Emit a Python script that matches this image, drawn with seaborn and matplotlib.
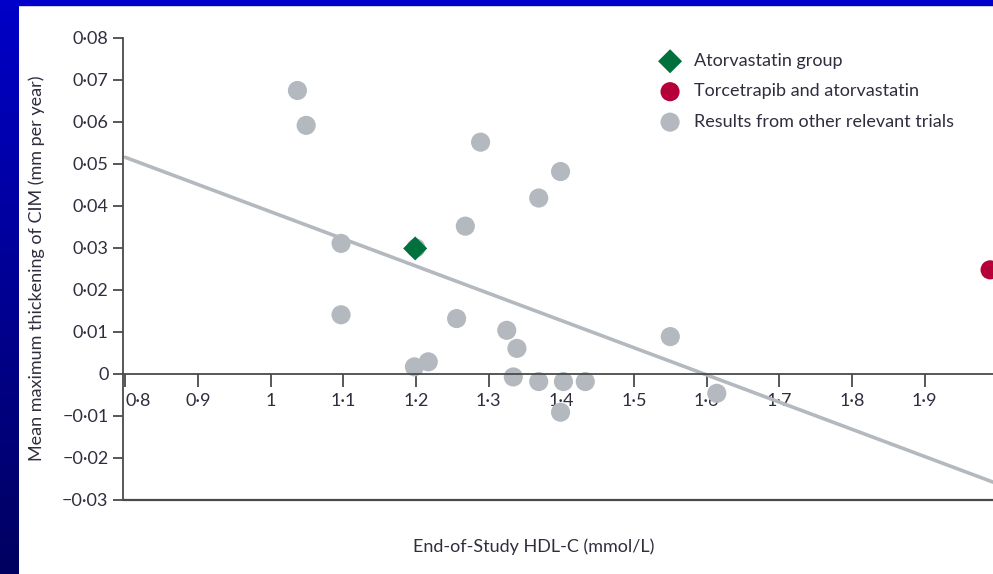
import matplotlib
matplotlib.use("Agg")
import matplotlib.pyplot as plt
import numpy as np
import seaborn as sns

# Data
other_hdl = [1.037, 1.049, 1.289, 1.399, 1.369, 1.268, 1.097, 1.200, 1.097, 1.256,
             1.325, 1.339, 1.198, 1.217, 1.334, 1.369, 1.403, 1.433, 1.399, 1.550, 1.614]
other_cim = [0.0675, 0.0592, 0.0552, 0.0482, 0.0419, 0.0352, 0.0311, 0.0300, 0.0141, 0.0132,
             0.0104, 0.0061, 0.0017, 0.0029, -0.0007, -0.0018, -0.0018, -0.0018, -0.0091, 0.0089, -0.0046]
ator_hdl = [1.199]
ator_cim = [0.0299]
torc_hdl = [1.99]
torc_cim = [0.0248]
fit_hdl = [0.8, 1.995]
fit_cim = [0.0516, -0.0258]

xticks = [0.8, 0.9, 1.0, 1.1, 1.2, 1.3, 1.4, 1.5, 1.6, 1.7, 1.8, 1.9]
yticks = [0.08, 0.07, 0.06, 0.05, 0.04, 0.03, 0.02, 0.01, 0, -0.01, -0.02, -0.03]

grey = "#b3b9be"
green = "#00703c"
red = "#b5003a"
axis_c = "#4a4a4a"
text_c = "#2e2e3e"
fs = 13

sns.set_theme(style="white")
plt.rcParams['font.family'] = ['Lato', 'DejaVu Sans']

fig = plt.figure(figsize=(9.93, 5.74), dpi=100)
ax = fig.add_axes([123 / 993, 1 - 500 / 574, 1 - 123 / 993, 462 / 574])

sns.lineplot(x=fit_hdl, y=fit_cim, ax=ax, color=grey, lw=2.6, zorder=1)
sns.scatterplot(x=other_hdl, y=other_cim, ax=ax, color=grey, s=190, edgecolor="none",
                zorder=2, label="Results from other relevant trials")
sns.scatterplot(x=ator_hdl, y=ator_cim, ax=ax, color=green, s=150, marker="D",
                edgecolor="none", zorder=3, label="Atorvastatin group")
sns.scatterplot(x=torc_hdl, y=torc_cim, ax=ax, color=red, s=190, edgecolor="none",
                zorder=3, label="Torcetrapib and atorvastatin")

ax.set_xlim(0.797, 1.994)
ax.set_ylim(-0.03, 0.08)

for side in ["top", "right"]:
    ax.spines[side].set_visible(False)
ax.spines["bottom"].set_position(("data", 0))
for side in ["bottom", "left"]:
    ax.spines[side].set_color(axis_c)
    ax.spines[side].set_linewidth(1.3)
ax.axhline(-0.03, color=axis_c, lw=1.6, clip_on=False, zorder=0)

def fmt(v):
    s = f"{v:.2f}" if v != 0 else "0"
    return s.replace(".", "\u00b7").replace("-", "\u2212")

ax.set_yticks(yticks)
ax.set_yticklabels([fmt(v) for v in yticks])
ax.set_xticks(xticks)
xl = [f"{v:g}".replace(".", "\u00b7") for v in xticks]
ax.set_xticklabels(xl)
ax.tick_params(axis="both", direction="out", length=7, width=1.3, color=axis_c,
               labelsize=fs, labelcolor=text_c, left=True, bottom=True)
ax.tick_params(axis="x", pad=5, length=9)
ax.xaxis.get_majorticklabels()[0].set_horizontalalignment("left")

ax.set_xlabel("")
ax.set_ylabel("")
fig.text(534 / 993, 1 - 547 / 574, "End-of-Study HDL-C (mmol/L)", ha="center", va="center",
         fontsize=fs, color=text_c)
fig.text(37 / 993, 1 - 268 / 574, "Mean maximum thickening of CIM (mm per year)",
         ha="center", va="center", rotation=90, fontsize=fs, color=text_c)

handles, labels = ax.get_legend_handles_labels()
order = [1, 2, 0]
leg = fig.legend([handles[i] for i in order], [labels[i] for i in order],
                 loc="upper left", bbox_to_anchor=(652 / 993, 1 - 53 / 574),
                 frameon=False, fontsize=fs, labelspacing=0.8, handletextpad=0.35,
                 borderaxespad=0, borderpad=0)
for t in leg.get_texts():
    t.set_color(text_c)
ax.get_legend().remove()

# blue frame on top and left
fig.patches.append(plt.Rectangle((0, 1 - 5 / 574), 1, 5 / 574, transform=fig.transFigure,
                                 color="#0000c8", zorder=5))
bax = fig.add_axes([0, 0, 19 / 993, 1])
grad = np.linspace(0, 1, 256).reshape(-1, 1)
cmap = matplotlib.colors.LinearSegmentedColormap.from_list("b", ["#0000c8", "#000060"])
bax.imshow(grad, aspect="auto", cmap=cmap, extent=[0, 1, 0, 1], origin="upper")
bax.set_axis_off()

fig.savefig("out.png", dpi=100)
